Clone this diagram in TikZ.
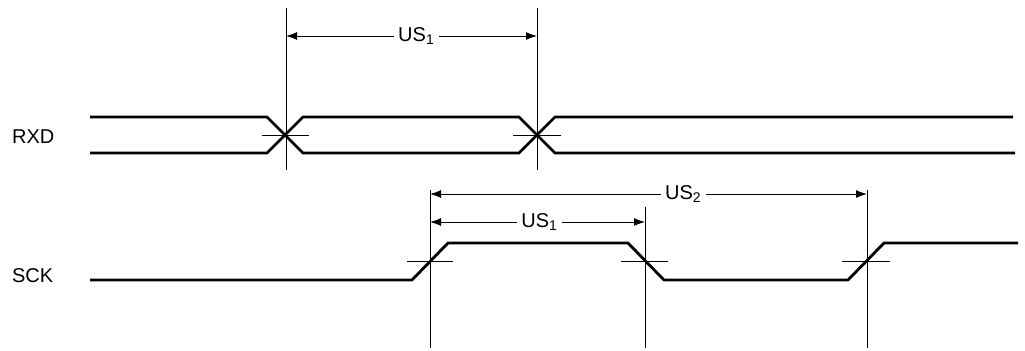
\documentclass[tikz,border=0pt]{standalone}
\usepackage{fontspec}
\setmainfont{Liberation Sans}
\usetikzlibrary{arrows.meta}
\usetikzlibrary{positioning}
\usetikzlibrary{calc}

\begin{document}
\begin{tikzpicture}[x=0.5pt,y=-0.5pt,
  signal/.style={line width=1.4pt},
  marker/.style={line width=0.5pt},
  dim/.style={line width=0.5pt,{Latex[length=5.5pt,width=4pt]}-{Latex[length=5.5pt,width=4pt]}},
  dimlabel/.style={fill=white,inner sep=2pt,font=\fontsize{10}{11}\selectfont},
  siglabel/.style={font=\fontsize{10}{11}\selectfont,anchor=west}]
\useasboundingbox (0,0) rectangle (1025,350);
% signal names
\node[siglabel] (rxd) at (5,137) {RXD};
\node[siglabel] (sck) at (5,276) {SCK};
% RXD
\draw[signal] (90,117) -- (267,117) -- (303,153) -- (519,153) -- (555,117) -- (1013,117);
\draw[signal] (90,153) -- (267,153) -- (303,117) -- (519,117) -- (555,153) -- (1015,153);
\draw[marker] (262,135) -- (309,135);
\draw[marker] (513,135) -- (561,135);
\coordinate (r1t) at (286,8);
\coordinate (r1b) at (286,170);
\coordinate (r2t) at (537,8);
\coordinate (r2b) at (537,170);
\draw[marker] (r1t) -- (r1b);
\draw[marker] (r2t) -- (r2b);
\coordinate (ra1) at (286,36);
\coordinate (ra2) at (537,36);
\draw[dim] (ra1) -- node[dimlabel,pos=0.52] (us1a) {US\textsubscript{1}} (ra2);
% SCK
\draw[signal] (90,280) -- (412,280) -- (448,243) -- (628,243) -- (664,280) -- (848,280) -- (884,243) -- (1018,243);
\draw[marker] (407,261) -- (453,261);
\draw[marker] (621,261) -- (668,261);
\draw[marker] (842,261) -- (890,261);
\coordinate (s1t) at (430,190);
\coordinate (s1b) at (430,348);
\coordinate (s2t) at (645,207);
\coordinate (s2b) at (645,348);
\coordinate (s3t) at (867,190);
\coordinate (s3b) at (867,348);
\draw[marker] (s1t) -- (s1b);
\draw[marker] (s2t) -- (s2b);
\draw[marker] (s3t) -- (s3b);
\coordinate (sa1) at (430,194);
\coordinate (sa3) at (867,194);
\coordinate (sb1) at (430,222);
\coordinate (sb2) at (645,222);
\draw[dim] (sa1) -- node[dimlabel,pos=0.58] (us2) {US\textsubscript{2}} (sa3);
\draw[dim] (sb1) -- node[dimlabel,pos=0.51] (us1b) {US\textsubscript{1}} (sb2);
\end{tikzpicture}
\end{document}
